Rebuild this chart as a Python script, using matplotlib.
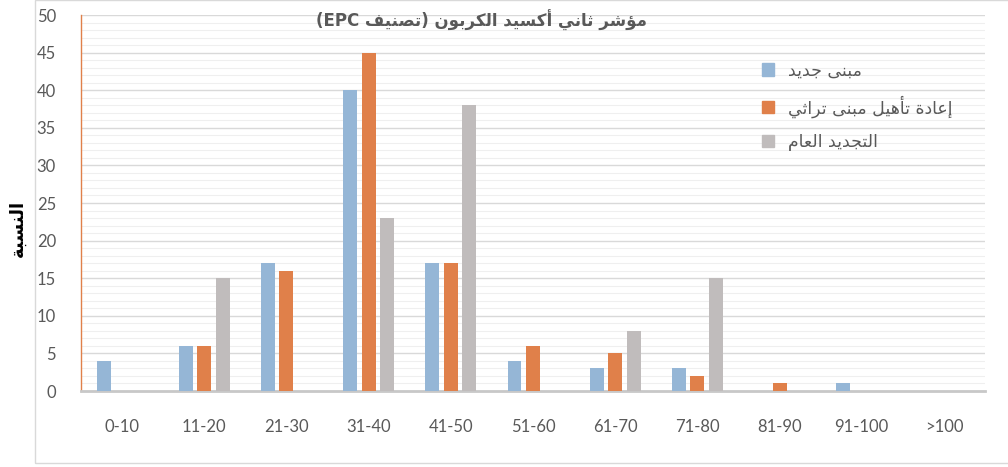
import numpy as np
import matplotlib.pyplot as plt
from matplotlib.patches import Rectangle, Patch

categories = ["0-10", "11-20", "21-30", "31-40", "41-50", "51-60",
              "61-70", "71-80", "81-90", "91-100", ">100"]
new_build = [4, 6, 17, 40, 17, 4, 3, 3, 0, 1, 0]
heritage = [0, 6, 16, 45, 17, 6, 5, 2, 1, 0, 0]
general = [0, 15, 0, 23, 38, 0, 8, 15, 0, 0, 0]

series_names = ["مبنى جديد", "إعادة تأهيل مبنى تراثي", "التجديد العام"]
title_ar = "مؤشر ثاني أكسيد الكربون (تصنيف"
ylabel_ar = "النسبة"

# presentation form start code and number of forms (2 = joins only to the right)
FORMS = {
    'آ': (0xFE81, 2), 'أ': (0xFE83, 2), 'ؤ': (0xFE85, 2), 'إ': (0xFE87, 2),
    'ئ': (0xFE89, 4), 'ا': (0xFE8D, 2), 'ب': (0xFE8F, 4), 'ة': (0xFE93, 2),
    'ت': (0xFE95, 4), 'ث': (0xFE99, 4), 'ج': (0xFE9D, 4), 'ح': (0xFEA1, 4),
    'خ': (0xFEA5, 4), 'د': (0xFEA9, 2), 'ذ': (0xFEAB, 2), 'ر': (0xFEAD, 2),
    'ز': (0xFEAF, 2), 'س': (0xFEB1, 4), 'ش': (0xFEB5, 4), 'ص': (0xFEB9, 4),
    'ض': (0xFEBD, 4), 'ط': (0xFEC1, 4), 'ظ': (0xFEC5, 4), 'ع': (0xFEC9, 4),
    'غ': (0xFECD, 4), 'ف': (0xFED1, 4), 'ق': (0xFED5, 4), 'ك': (0xFED9, 4),
    'ل': (0xFEDD, 4), 'م': (0xFEE1, 4), 'ن': (0xFEE5, 4), 'ه': (0xFEE9, 4),
    'و': (0xFEED, 2), 'ى': (0xFEEF, 2), 'ي': (0xFEF1, 4),
}
MIRROR = {'(': ')', ')': '('}


def shape(text):
    out = []
    for i, ch in enumerate(text):
        if ch not in FORMS:
            out.append(ch)
            continue
        start, n = FORMS[ch]
        prev = text[i - 1] if i > 0 else ''
        nxt = text[i + 1] if i + 1 < len(text) else ''
        join_prev = prev in FORMS and FORMS[prev][1] == 4
        join_next = n == 4 and nxt in FORMS
        if join_prev and join_next:
            k = 3
        elif join_prev:
            k = 1
        elif join_next:
            k = 2
        else:
            k = 0
        out.append(chr(start + k))
    return out


def rtl(text):
    return ''.join(MIRROR.get(c, c) for c in reversed(shape(text)))


plt.rcParams['font.family'] = ['DejaVu Sans']

fig = plt.figure(figsize=(10.08, 4.67), dpi=100)
ax = fig.add_axes([81 / 1008, 1 - 391 / 467, 904 / 1008, 376 / 467])

# chart frame
fig.patches.append(Rectangle((35 / 1008, 1 - 463 / 467), 1.0, 463 / 467,
                             transform=fig.transFigure, fill=False,
                             edgecolor='#d9d9d9', lw=1))

x = np.arange(len(categories))
w = 0.17
off = 0.225
colors = ['#95b6d6', '#e0804a', '#c0bcbc']
ax.bar(x - off, new_build, w, color=colors[0], zorder=3)
ax.bar(x, heritage, w, color=colors[1], zorder=3)
ax.bar(x + off, general, w, color=colors[2], zorder=3)

ax.set_xlim(-0.5, len(categories) - 0.5)
ax.set_ylim(0, 50)
ax.set_yticks(range(0, 51, 5))
ax.set_yticks(range(0, 51, 1), minor=True)
ax.grid(axis='y', which='major', color='#d9d9d9', lw=1, zorder=0)
ax.grid(axis='y', which='minor', color='#efefef', lw=0.8, zorder=0)
ax.set_xticks(x)
ax.set_xticklabels(categories)
ax.tick_params(axis='both', which='both', length=0, labelsize=12,
               labelcolor='#595959')
ax.tick_params(axis='x', pad=20)
ax.tick_params(axis='y', pad=18)
for lab in ax.get_xticklabels() + ax.get_yticklabels():
    lab.set_family('Lato')

for s in ['top', 'right']:
    ax.spines[s].set_visible(False)
ax.spines['left'].set_color('#e0804a')
ax.spines['left'].set_linewidth(1)
ax.spines['bottom'].set_color('#c8c8c8')
ax.spines['bottom'].set_linewidth(2)

fig.text(482 / 1008, 1 - 20 / 467, '(EPC ' + rtl(title_ar), ha='center',
         va='center', fontsize=12, fontweight='bold', color='#595959')
fig.text(18 / 1008, 1 - 228 / 467, rtl(ylabel_ar), rotation=90, ha='center',
         va='center', fontsize=13, fontweight='bold', color='black')

handles = [Patch(color=c) for c in colors]
leg = fig.legend(handles, [rtl(s) for s in series_names], loc='upper left',
                 bbox_to_anchor=(746 / 1008, 1 - 46 / 467), frameon=False,
                 fontsize=12.5, handlelength=0.7, handleheight=0.7,
                 handletextpad=0.8, labelspacing=0.9)
for t in leg.get_texts():
    t.set_color('#595959')

fig.savefig('out.png', dpi=100)
